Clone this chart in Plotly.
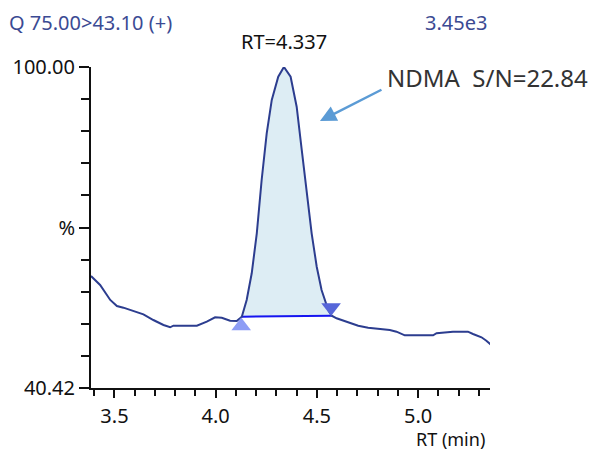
import plotly.graph_objects as go
import numpy as np

# ---- data ----
rt = [3.384, 3.429, 3.479, 3.512, 3.544, 3.594, 3.643, 3.692, 3.742, 3.775, 3.791,
      3.907, 3.956, 3.997, 4.030, 4.071, 4.104, 4.120, 4.129, 4.153, 4.178, 4.203,
      4.227, 4.252, 4.277, 4.309, 4.337, 4.370, 4.400, 4.425, 4.449, 4.474, 4.499,
      4.523, 4.556, 4.573, 4.597, 4.630, 4.663, 4.704, 4.753, 4.819, 4.860, 4.893,
      4.934, 5.074, 5.091, 5.172, 5.246, 5.271, 5.313, 5.337, 5.367]
intensity = [61.21, 59.54, 56.76, 55.64, 55.33, 54.71, 54.10, 53.04, 52.11, 51.69, 51.98,
             51.98, 52.73, 53.54, 53.47, 52.91, 52.86, 53.36, 53.66, 56.76, 61.71, 69.13,
             79.03, 87.69, 93.88, 98.20, 100.0, 98.20, 92.63, 84.60, 76.56, 69.13, 62.93,
             58.61, 54.90, 53.84, 53.36, 52.91, 52.54, 51.98, 51.61, 51.43, 51.19, 50.87,
             50.20, 50.20, 50.58, 50.87, 50.87, 50.45, 49.83, 49.20, 48.22]
peak_start = (4.129, 53.66)
peak_end = (4.573, 53.84)
apex = (4.337, 101.67)
start_marker = (4.126, 51.93)
end_marker = (4.570, 55.36)
y_min, y_max = 40.42, 100.00
x_min, x_max = 3.384, 5.355
x_major = [3.5, 4.0, 4.5, 5.0]
x_major_text = ["3.5", "4.0", "4.5", "5.0"]
header_left = "Q 75.00>43.10 (+)"
header_right = "3.45e3"
rt_label = "RT=4.337"
sn_label = "NDMA\u00a0 S/N=22.84"

FONT = "Noto Sans"
L, R, T, B = 91, 490, 67, 388

def px(x):
    return (x - L) / (R - L)

def py(y):
    return (B - y) / (B - T)

fig = go.Figure()

# fill of integrated peak
seg = [(t, v) for t, v in zip(rt, intensity) if peak_start[0] <= t <= peak_end[0]]
fx = [s[0] for s in seg] + [peak_end[0], peak_start[0]]
fy = [s[1] for s in seg] + [peak_end[1], peak_start[1]]
fig.add_trace(go.Scatter(x=fx, y=fy, fill="toself", fillcolor="#ddedf4",
                         line=dict(width=0), mode="lines", hoverinfo="skip"))

# baseline
fig.add_trace(go.Scatter(x=[peak_start[0], peak_end[0]], y=[peak_start[1], peak_end[1]],
                         mode="lines", line=dict(color="#1515f0", width=2)))

# chromatogram
fig.add_trace(go.Scatter(x=rt, y=intensity, mode="lines",
                         line=dict(color="#2c3d8f", width=2)))

# markers
fig.add_trace(go.Scatter(x=[start_marker[0]], y=[start_marker[1]], mode="markers",
                         marker=dict(symbol="triangle-up", size=17, color="#8d9df5"),
                         cliponaxis=False))
fig.add_trace(go.Scatter(x=[end_marker[0]], y=[end_marker[1]], mode="markers",
                         marker=dict(symbol="triangle-down", size=17, color="#5666d9"),
                         cliponaxis=False))
fig.add_trace(go.Scatter(x=[apex[0]], y=[apex[1]], mode="markers",
                         marker=dict(symbol="triangle-down", size=14, color="#13265e"),
                         cliponaxis=False))

y_ticks = list(np.linspace(y_min, y_max, 11))

fig.update_layout(
    width=593, height=452,
    margin=dict(l=L, r=593 - R, t=T, b=452 - B),
    paper_bgcolor="white", plot_bgcolor="white",
    showlegend=False,
    font=dict(family=FONT, size=20, color="#111"),
    xaxis=dict(range=[x_min, x_max], showgrid=False, zeroline=False,
               showline=True, linecolor="#111", linewidth=2,
               tickmode="array", tickvals=x_major, ticktext=x_major_text,
               ticks="outside", ticklen=8, tickwidth=2, tickcolor="#111",
               ticklabelstandoff=1,
               tickfont=dict(size=20, family=FONT),
               minor=dict(tickmode="linear", tick0=3.4, dtick=0.1,
                          ticks="outside", ticklen=6, tickwidth=2, tickcolor="#111")),
    yaxis=dict(range=[y_min, y_max], showgrid=False, zeroline=False,
               showline=True, linecolor="#111", linewidth=2,
               tickmode="array", tickvals=[y_min, (y_min + y_max) / 2, y_max],
               ticktext=["40.42", "%", "100.00"],
               ticks="outside", ticklen=10, tickwidth=2, tickcolor="#111",
               tickfont=dict(size=20, family=FONT),
               minor=dict(tickmode="array", tickvals=y_ticks,
                          ticks="outside", ticklen=8, tickwidth=2, tickcolor="#111")),
)

fig.add_annotation(text=header_left, xref="paper", yref="paper", x=px(7), y=py(22),
                   xanchor="left", yanchor="middle", showarrow=False,
                   font=dict(size=20, color="#3b4a93", family=FONT))
fig.add_annotation(text=header_right, xref="paper", yref="paper", x=px(489), y=py(22),
                   xanchor="right", yanchor="middle", showarrow=False,
                   font=dict(size=20, color="#3b4a93", family=FONT))
fig.add_annotation(text=rt_label, xref="x", yref="paper", x=apex[0], y=py(41),
                   xanchor="center", yanchor="middle", showarrow=False,
                   font=dict(size=20, color="#111", family=FONT))
fig.add_annotation(text=sn_label, xref="paper", yref="paper", x=px(385), y=py(77),
                   xanchor="left", yanchor="middle", showarrow=False,
                   font=dict(size=24, color="#333", family=FONT))
fig.add_annotation(text="", xref="x", yref="y", x=4.515, y=89.98,
                   ax=63, ay=-32, showarrow=True, arrowhead=2, arrowsize=1.3,
                   arrowwidth=2.5, arrowcolor="#5b9bd5")
fig.add_annotation(text="RT (min)", xref="paper", yref="paper", x=px(450), y=py(439),
                   xanchor="center", yanchor="middle", showarrow=False,
                   font=dict(size=18, color="#111", family=FONT))

fig.write_html("out.html")
